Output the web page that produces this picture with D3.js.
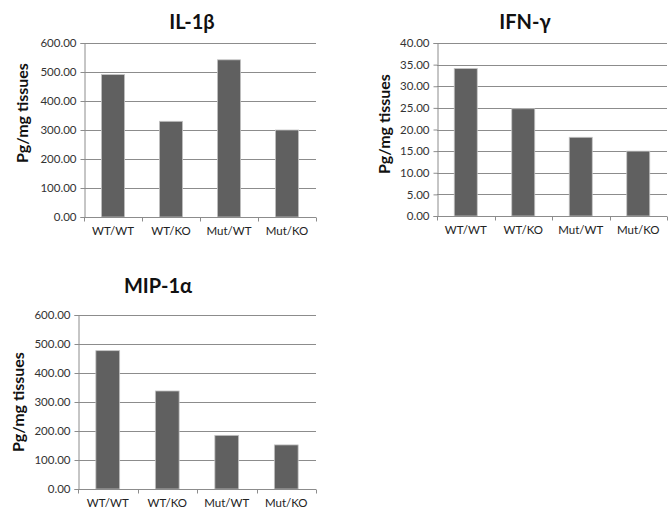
<!DOCTYPE html>
<html>
<head>
<meta charset="utf-8">
<script src="https://cdn.jsdelivr.net/npm/d3@7"></script>
<style>
  body { margin: 0; background: #fff; }
  svg { display: block; font-family: Lato, "Open Sans", sans-serif; }
</style>
</head>
<body>
<svg id="chart" width="671" height="517"></svg>
<script>
const categories = ['WT/WT', 'WT/KO', 'Mut/WT', 'Mut/KO'];
const il1bValues = [491, 330, 542, 300];
const ifngValues = [34.1, 24.8, 18.2, 15.0];
const mip1aValues = [477, 338, 185, 152];
const il1bTicks = [0, 100, 200, 300, 400, 500, 600];
const ifngTicks = [0, 5, 10, 15, 20, 25, 30, 35, 40];
const mip1aTicks = [0, 100, 200, 300, 400, 500, 600];

const GRID = '#8c8c8c';
const BAR = '#606060';

const svg = d3.select('#chart');
const fmt = d3.format('.2f');

function drawPanel({ title, values, ticks, left, right, top, bottom, titleX, titleY, labelX, labelY }) {
  const g = svg.append('g');

  const x = d3.scaleBand()
    .domain(categories)
    .range([left, right])
    .paddingInner(0.6)
    .paddingOuter(0.3);

  const y = d3.scaleLinear()
    .domain([0, d3.max(ticks)])
    .range([bottom, top]);

  // gridlines
  g.append('g')
    .selectAll('line')
    .data(ticks.filter(t => t > 0))
    .join('line')
      .attr('x1', left)
      .attr('x2', right)
      .attr('y1', d => Math.round(y(d)) + 0.5)
      .attr('y2', d => Math.round(y(d)) + 0.5)
      .attr('stroke', GRID);

  // y axis
  const yAxis = d3.axisLeft(y)
    .tickValues(ticks)
    .tickFormat(fmt)
    .tickSize(4)
    .tickPadding(4);
  const yg = g.append('g')
    .attr('transform', `translate(${Math.round(left) + 0.5},0)`)
    .call(yAxis);
  yg.select('.domain').attr('stroke', GRID);
  yg.selectAll('.tick line').attr('stroke', GRID);
  yg.selectAll('.tick text')
    .attr('font-size', 11.5)
    .attr('fill', '#333')
    .attr('font-family', 'Lato, sans-serif');

  // bars
  g.append('g')
    .selectAll('rect')
    .data(values)
    .join('rect')
      .attr('x', (d, i) => x(categories[i]))
      .attr('y', d => y(d))
      .attr('width', x.bandwidth())
      .attr('height', d => y(0) - y(d))
      .attr('fill', BAR)
      .attr('stroke', '#c4c4c4')
      .attr('stroke-width', 0.8);

  // x axis line and boundary ticks
  const by = Math.round(y(0)) + 0.5;
  g.append('line')
    .attr('x1', left)
    .attr('x2', right)
    .attr('y1', by)
    .attr('y2', by)
    .attr('stroke', GRID);
  const step = x.step();
  g.append('g')
    .selectAll('line')
    .data(d3.range(categories.length + 1))
    .join('line')
      .attr('x1', i => Math.round(left + i * step) + 0.5)
      .attr('x2', i => Math.round(left + i * step) + 0.5)
      .attr('y1', by)
      .attr('y2', by + 4)
      .attr('stroke', GRID);

  g.append('g')
    .selectAll('text')
    .data(categories)
    .join('text')
      .attr('x', d => x(d) + x.bandwidth() / 2)
      .attr('y', bottom + 18)
      .attr('text-anchor', 'middle')
      .attr('font-size', 11.5)
      .attr('fill', '#222')
      .text(d => d);

  // title
  g.append('text')
    .attr('x', titleX)
    .attr('y', titleY)
    .attr('text-anchor', 'middle')
    .attr('font-size', 20)
    .attr('font-weight', 'bold')
    .attr('fill', '#111')
    .text(title);

  // y label
  g.append('text')
    .attr('transform', `translate(${labelX},${labelY}) rotate(-90)`)
    .attr('text-anchor', 'middle')
    .attr('dominant-baseline', 'central')
    .attr('font-size', 16)
    .attr('font-weight', 'bold')
    .attr('fill', '#111')
    .text('Pg/mg tissues');
}

drawPanel({
  title: 'IL-1β', values: il1bValues, ticks: il1bTicks,
  left: 84, right: 316, top: 43, bottom: 217,
  titleX: 192, titleY: 29, labelX: 21, labelY: 113,
});

drawPanel({
  title: 'IFN-γ', values: ifngValues, ticks: ifngTicks,
  left: 437, right: 667, top: 43, bottom: 216,
  titleX: 525, titleY: 29, labelX: 383, labelY: 124,
});

drawPanel({
  title: 'MIP-1α', values: mip1aValues, ticks: mip1aTicks,
  left: 78, right: 316, top: 315, bottom: 489,
  titleX: 158, titleY: 293, labelX: 17, labelY: 402,
});
</script>
</body>
</html>
